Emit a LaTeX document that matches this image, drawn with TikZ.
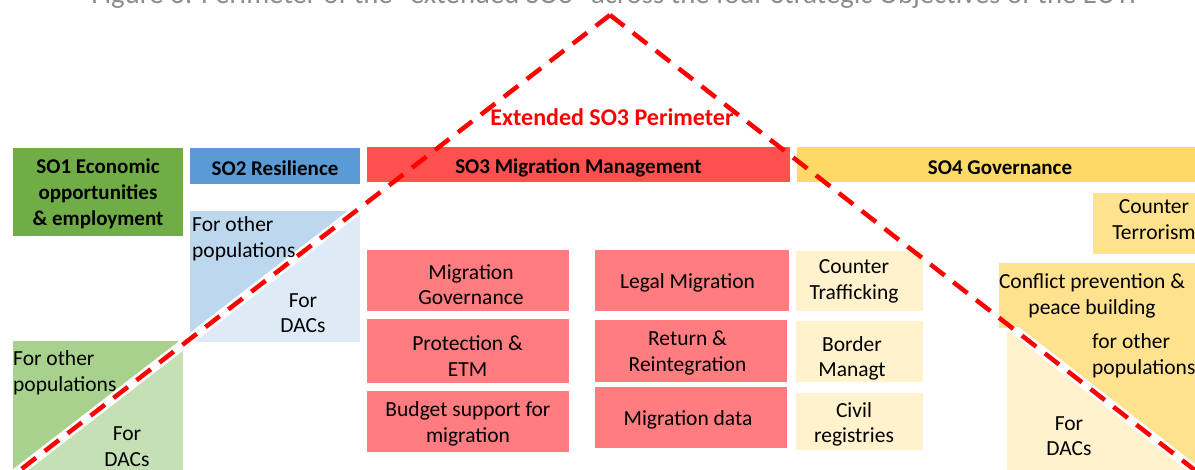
\documentclass[tikz,border=0pt]{standalone}
\usepackage{fontspec}
\setmainfont{Carlito}
\definecolor{soonehdr}{HTML}{70AD47}
\definecolor{soonedark}{HTML}{A9D18E}
\definecolor{soonelight}{HTML}{C5E0B4}
\definecolor{sotwohdr}{HTML}{5B9BD5}
\definecolor{sotwodark}{HTML}{BDD7EE}
\definecolor{sotwolight}{HTML}{DEEBF7}
\definecolor{sothreehdr}{HTML}{FF5050}
\definecolor{sothreebox}{HTML}{FF7C80}
\definecolor{sofourhdr}{HTML}{FFD966}
\definecolor{sofourmid}{HTML}{FFE28E}
\definecolor{sofourlight}{HTML}{FFF2CC}
\definecolor{captiongray}{RGB}{140,140,140}
\definecolor{perimred}{HTML}{FF0000}
\begin{document}
\begin{tikzpicture}[x=1pt,y=-1pt,
  txt/.style={font=\fontsize{21.5}{25.5}\selectfont, align=center, inner sep=0pt, text=black},
  txtleft/.style={font=\fontsize{21.5}{25.5}\selectfont, align=left, inner sep=0pt, text=black, anchor=west},
  hdr/.style={font=\bfseries\fontsize{21}{26}\selectfont, align=center, inner sep=0pt, text=black},
  rectbox/.style={draw=none, inner sep=0pt, outer sep=0pt},
  halo/.style={white, line width=10pt},
  perim/.style={perimred, line width=4.5pt, dash pattern=on 18pt off 11pt},
]
\useasboundingbox (0,0) rectangle (1195,470);
\clip (0,0) rectangle (1195,470);

\coordinate (apex) at (610,15);
\coordinate (farL) at (-90,555);
\coordinate (farR) at (1300,552);

% caption (cut off at the top)
\node[font=\fontsize{28.7}{32}\selectfont, text=captiongray, anchor=base, inner sep=0pt] (caption) at (617,4)
  {Figure 3: Perimeter of the “extended SO3” across the four Strategic Objectives of the EUTF};

% headers
\node[rectbox, fill=soonehdr, minimum width=170pt, minimum height=88pt] (so1) at (98,192) {};
\node[hdr] (so1text) at (98,194) {SO1 Economic\\opportunities\\\& employment};
\node[rectbox, fill=sotwohdr, minimum width=170pt, minimum height=36pt] (so2) at (275,166) {};
\node[hdr] (so2text) at (275,168.5) {SO2 Resilience};
\node[rectbox, fill=sothreehdr, minimum width=423pt, minimum height=35pt] (so3) at (578.5,164.5) {};
\node[hdr] (so3text) at (578.5,168) {SO3 Migration Management};
\node[rectbox, fill=sofourhdr, minimum width=406pt, minimum height=35pt] (so4) at (1000,164.5) {};
\node[hdr] (so4text) at (1000,167.5) {SO4 Governance};

% SO2 split box
\begin{scope}
  \clip (190,212) rectangle (360,342);
  \fill[sotwolight] (190,212) rectangle (360,342);
  \fill[sotwodark] (apex) -- (farL) -- (-300,555) -- (-300,0) -- (610,0) -- cycle;
  \draw[halo] (apex) -- (farL);
\end{scope}
% SO1 split box
\begin{scope}
  \clip (13,342) rectangle (183,480);
  \fill[soonelight] (13,342) rectangle (183,480);
  \fill[soonedark] (apex) -- (farL) -- (-300,555) -- (-300,0) -- (610,0) -- cycle;
  \draw[halo] (apex) -- (farL);
\end{scope}
% SO4 conflict box
\fill[sofourmid] (999,263) rectangle (1200,328);
\begin{scope}
  \clip (1007,328) rectangle (1200,480);
  \fill[sofourlight] (1007,328) rectangle (1200,480);
  \fill[sofourmid] (apex) -- (farR) -- (1400,552) -- (1400,0) -- (610,0) -- cycle;
  \draw[halo] (apex) -- (farR);
\end{scope}

% split box texts
\node[txtleft] (so2other) at (192,239) {For other\\populations};
\node[txt] (so2dac) at (303,313) {For\\DACs};
\node[txtleft] (so1other) at (13,373) {For other\\populations};
\node[txt] (so1dac) at (127,446.5) {For\\DACs};
\node[txt] (conflict) at (1092,296) {Conflict prevention \&\\peace building};
\node[txtleft] (so4other) at (1092,356) {for other\\populations};
\node[txt] (so4dac) at (1069,436) {For\\DACs};

% SO3 boxes
\node[rectbox, fill=sothreebox, minimum width=202pt, minimum height=61pt] (mg) at (468,280.5) {};
\node[txt] (mgtext) at (471,284.5) {Migration\\Governance};
\node[rectbox, fill=sothreebox, minimum width=202pt, minimum height=64pt] (pe) at (468,351) {};
\node[txt] (petext) at (467.5,356) {Protection \&\\ETM};
\node[rectbox, fill=sothreebox, minimum width=202pt, minimum height=61pt] (bs) at (468,421.5) {};
\node[txt] (bstext) at (468,424) {Budget support for\\migration};
\node[rectbox, fill=sothreebox, minimum width=194pt, minimum height=61pt] (lm) at (692,280.5) {};
\node[txt] (lmtext) at (687.5,283) {Legal Migration};
\node[rectbox, fill=sothreebox, minimum width=192pt, minimum height=62pt] (rr) at (691,351) {};
\node[txt] (rrtext) at (687.5,353) {Return \&\\Reintegration};
\node[rectbox, fill=sothreebox, minimum width=192pt, minimum height=61pt] (md) at (691,417.5) {};
\node[txt] (mdtext) at (688,419.5) {Migration data};

% SO4 boxes
\node[rectbox, fill=sofourlight, minimum width=127pt, minimum height=60pt] (ctr) at (859.5,281) {};
\node[txt] (ctrtext) at (854,281.5) {Counter\\Trafficking};
\node[rectbox, fill=sofourlight, minimum width=127pt, minimum height=61pt] (bm) at (859.5,351.5) {};
\node[txt] (bmtext) at (852,358.5) {Border\\Managt};
\node[rectbox, fill=sofourlight, minimum width=127pt, minimum height=57pt] (cr) at (859.5,421.5) {};
\node[txt] (crtext) at (854,424.5) {Civil\\registries};
\node[rectbox, fill=sofourmid, minimum width=124pt, minimum height=61pt] (cter) at (1155,223.5) {};
\node[txt] (ctertext) at (1154,219.5) {Counter\\Terrorism};

% extended SO3 perimeter
\draw[perim] (apex) -- (farL);
\draw[perim] (apex) -- (farR);
\node[font=\bfseries\fontsize{24}{28}\selectfont, text=perimred, inner sep=0pt] (perimlabel) at (612,117) {Extended SO3 Perimeter};
\end{tikzpicture}
\end{document}
